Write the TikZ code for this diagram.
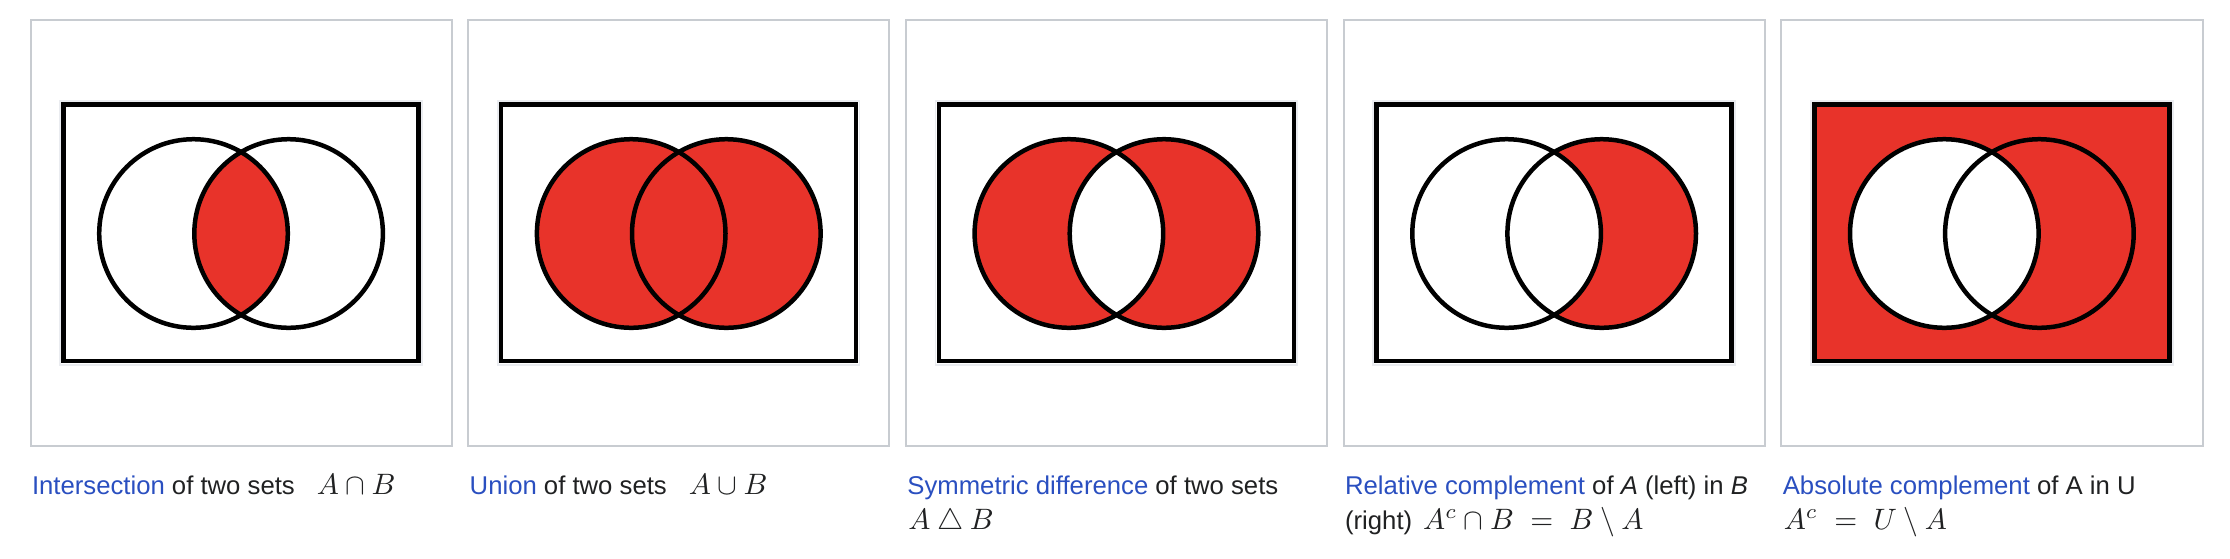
\documentclass[tikz,border=0pt]{standalone}
\usepackage[no-math]{fontspec}
\setmainfont{Liberation Sans}
\definecolor{vred}{HTML}{E8332A}
\definecolor{vlink}{HTML}{2A4FC0}
\definecolor{vtext}{HTML}{202122}
\definecolor{vframe}{HTML}{C8CCD1}
\definecolor{vedge}{HTML}{EAECF0}
\newcommand\lnk[1]{\textcolor{vlink}{#1}}
\newcommand\vmath[1]{\scalebox{2.95}{\fontsize{10}{12}\selectfont$#1$}}
\tikzset{
  panelframe/.style={draw=vframe, line width=2pt},
  imgedge/.style={draw=vedge, line width=1.8pt},
  outline/.style={draw=black, line width=4.5pt},
  region/.style={fill=vred},
  blank/.style={fill=white},
  captext/.style={anchor=base west, inner sep=0pt, outer sep=0pt, text=vtext,
    font=\fontsize{25.7}{30}\selectfont},
}
\begin{document}
\begin{tikzpicture}[x=1pt, y=-1pt]
\useasboundingbox (0,0) rectangle (2230,558);
% ---------- panel 1: intersection
\begin{scope}[shift={(30,0)}]
  \draw[panelframe] (0.5,20) rectangle (421.7,445.5);
  \draw[imgedge] (30,100.8) rectangle (391.8,364.7);
  \coordinate (a1) at (163.5,233.5);
  \coordinate (b1) at (258.6,233.5);
  \begin{scope}
    \clip (a1) circle[radius=94.3pt];
    \fill[region] (b1) circle[radius=94.3pt];
  \end{scope}
  \draw[outline] (a1) circle[radius=94.3pt];
  \draw[outline] (b1) circle[radius=94.3pt];
  \draw[outline] (33.5,104.5) rectangle (388.5,361);
  \node[captext] (c1) at (2,494) {\lnk{Intersection} of two sets\hspace{22pt}\vmath{A\cap B}};
\end{scope}
% ---------- panel 2: union
\begin{scope}[shift={(467.7,0)}]
  \draw[panelframe] (0.5,20) rectangle (421.7,445.5);
  \draw[imgedge] (30,100.8) rectangle (391.8,364.7);
  \coordinate (a2) at (163.5,233.5);
  \coordinate (b2) at (258.6,233.5);
  \fill[region] (a2) circle[radius=94.3pt];
  \fill[region] (b2) circle[radius=94.3pt];
  \draw[outline] (a2) circle[radius=94.3pt];
  \draw[outline] (b2) circle[radius=94.3pt];
  \draw[outline] (33.5,104.5) rectangle (388.5,361);
  \node[captext] (c2) at (2,494) {\lnk{Union} of two sets\hspace{22pt}\vmath{A\cup B}};
\end{scope}
% ---------- panel 3: symmetric difference
\begin{scope}[shift={(905.4,0)}]
  \draw[panelframe] (0.5,20) rectangle (421.7,445.5);
  \draw[imgedge] (30,100.8) rectangle (391.8,364.7);
  \coordinate (a3) at (163.5,233.5);
  \coordinate (b3) at (258.6,233.5);
  \fill[region, even odd rule] (a3) circle[radius=94.3pt] (b3) circle[radius=94.3pt];
  \draw[outline] (a3) circle[radius=94.3pt];
  \draw[outline] (b3) circle[radius=94.3pt];
  \draw[outline] (33.5,104.5) rectangle (388.5,361);
  \node[captext] (c3) at (2,494) {\lnk{Symmetric difference} of two sets};
  \node[captext] (d3) at (3,529.5) {\vmath{A\mathbin{\triangle}B}};
\end{scope}
% ---------- panel 4: relative complement
\begin{scope}[shift={(1343.1,0)}]
  \draw[panelframe] (0.5,20) rectangle (421.7,445.5);
  \draw[imgedge] (30,100.8) rectangle (391.8,364.7);
  \coordinate (a4) at (163.5,233.5);
  \coordinate (b4) at (258.6,233.5);
  \fill[region] (b4) circle[radius=94.3pt];
  \fill[blank] (a4) circle[radius=94.3pt];
  \draw[outline] (a4) circle[radius=94.3pt];
  \draw[outline] (b4) circle[radius=94.3pt];
  \draw[outline] (33.5,104.5) rectangle (388.5,361);
  \node[captext] (c4) at (2,494) {\lnk{Relative complement} of \textit{A} (left) in \textit{B}};
  \node[captext] (d4) at (2,529.5) {(right)\hspace{11pt}\vmath{A^{c}\cap B\ =\ B\setminus A}};
\end{scope}
% ---------- panel 5: absolute complement
\begin{scope}[shift={(1780.8,0)}]
  \draw[panelframe] (0.5,20) rectangle (421.7,445.5);
  \draw[imgedge] (30,100.8) rectangle (391.8,364.7);
  \coordinate (a5) at (163.5,233.5);
  \coordinate (b5) at (258.6,233.5);
  \fill[region] (33.5,104.5) rectangle (388.5,361);
  \fill[blank] (a5) circle[radius=94.3pt];
  \draw[outline] (a5) circle[radius=94.3pt];
  \draw[outline] (b5) circle[radius=94.3pt];
  \draw[outline] (33.5,104.5) rectangle (388.5,361);
  \node[captext] (c5) at (2,494) {\lnk{Absolute complement} of A in U};
  \node[captext] (d5) at (3,529.5) {\vmath{A^{c}\ =\ U\setminus A}};
\end{scope}
\end{tikzpicture}
\end{document}
